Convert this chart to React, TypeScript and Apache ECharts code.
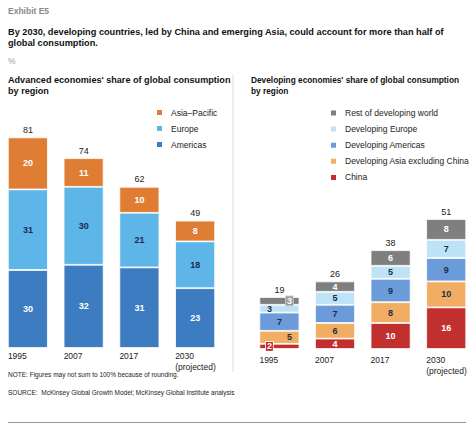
import React, { useEffect, useRef } from "react";
import * as echarts from "echarts";

const years = ["1995", "2007", "2017", "2030\n(projected)"];

// Advanced economies
const americas = [30, 32, 31, 23];
const europe = [31, 30, 21, 18];
const asiaPacific = [20, 11, 10, 8];
const advTotals = [81, 74, 62, 49];

// Developing economies
const china = [2, 4, 10, 16];
const devAsia = [5, 6, 8, 10];
const devAmericas = [7, 7, 9, 9];
const devEurope = [3, 5, 5, 7];
const restWorld = [3, 4, 6, 8];
const devTotals = [19, 26, 38, 51];

const FONT = "Liberation Sans, Arial, Helvetica, sans-serif";
const DARK = "#1d2b4f";

const C = {
  asiaPacific: "#E07D34",
  europe: "#5DB5E8",
  americas: "#3E7CC2",
  rest: "#7F7F7F",
  devEurope: "#BEE3F6",
  devAmericas: "#6B9BD8",
  devAsia: "#F1AE62",
  china: "#C1302F",
};

function segLabel(color: string) {
  return {
    show: true,
    position: "inside" as const,
    color,
    fontSize: 9,
    fontWeight: "bold" as const,
    fontFamily: FONT,
  };
}

function barSeries(
  name: string,
  data: any[],
  color: string,
  labelColor: string,
  axis: number,
  stack: string
) {
  return {
    name,
    type: "bar",
    stack,
    xAxisIndex: axis,
    yAxisIndex: axis,
    barWidth: 40,
    data,
    itemStyle: { color, borderColor: "#fff", borderWidth: 0.8 },
    label: segLabel(labelColor),
  };
}

function totalSeries(totals: number[], axis: number, stack: string) {
  return {
    name: "total" + axis,
    type: "bar",
    stack,
    xAxisIndex: axis,
    yAxisIndex: axis,
    barWidth: 40,
    data: totals.map(() => 0),
    itemStyle: { color: "transparent" },
    label: {
      show: true,
      position: "top" as const,
      distance: 3,
      color: "#222",
      fontSize: 9,
      fontFamily: FONT,
      formatter: (p: any) => String(totals[p.dataIndex]),
    },
  };
}

function xLabel(margin: number) {
  return {
    interval: 0,
    margin,
    formatter: (v: string) =>
      v
        .split("\n")
        .map((s) => `{a|${s}}`)
        .join("\n"),
    rich: {
      a: {
        width: 40,
        align: "left",
        fontSize: 8.5,
        lineHeight: 10.5,
        color: "#222",
        fontFamily: FONT,
      },
    },
  };
}

function txt(
  x: number,
  y: number,
  text: string,
  fontSize: number,
  fill: string,
  bold: boolean,
  lineHeight?: number
) {
  return {
    type: "text",
    x,
    y,
    style: {
      text,
      x: 0,
      y: 0,
      fontSize,
      fontWeight: bold ? "bold" : "normal",
      fill,
      fontFamily: FONT,
      lineHeight: lineHeight || fontSize * 1.2,
      textAlign: "left",
      textVerticalAlign: "top",
    },
  };
}

export default function App() {
  const ref = useRef<HTMLDivElement>(null);
  useEffect(() => {
    if (!ref.current) return;
    const chart = echarts.init(ref.current, undefined, { renderer: "svg" });

    const devStyled = (arr: number[], key: string) =>
      arr.map((v, i) => {
        if (i !== 0) return v;
        if (key === "china")
          return {
            value: v,
            label: {
              offset: [-10, 0],
              backgroundColor: C.china,
              borderColor: "#fff",
              borderWidth: 0.8,
              padding: [0, 1, 0, 1],
              color: "#fff",
            },
          };
        if (key === "rest")
          return {
            value: v,
            label: {
              offset: [10, 0],
              backgroundColor: "#9a9a9a",
              borderColor: "#d0d0d0",
              borderWidth: 0.8,
              padding: [0, 1, 0, 1],
              color: "#fff",
            },
          };
        if (key === "devEurope") return { value: v, label: { offset: [-10, 0] } };
        if (key === "devAsia") return { value: v, label: { offset: [10, 0] } };
        return v;
      });

    const legendText = {
      fontSize: 8.5,
      color: "#222",
      fontFamily: FONT,
      padding: [0, 0, 0, 3],
    };

    const option: any = {
      animation: false,
      textStyle: { fontFamily: FONT },
      grid: [
        { left: 0, width: 223, top: 88, bottom: 83 },
        { left: 251.6, width: 223, top: 89, bottom: 82 },
      ],
      xAxis: [0, 1].map((i) => ({
        type: "category",
        gridIndex: i,
        data: years,
        axisLine: { show: false },
        axisTick: { show: false },
        axisLabel: xLabel(i === 0 ? 3 : 6),
      })),
      yAxis: [0, 1].map((i) => ({
        type: "value",
        gridIndex: i,
        min: 0,
        max: 100,
        show: false,
        splitLine: { show: false },
      })),
      legend: [
        {
          left: 150,
          top: 103,
          orient: "vertical",
          itemWidth: 7,
          itemHeight: 7,
          itemGap: 7,
          icon: "rect",
          data: ["Asia–Pacific", "Europe", "Americas"],
          textStyle: legendText,
        },
        {
          left: 324,
          top: 103.5,
          orient: "vertical",
          itemWidth: 7,
          itemHeight: 7,
          itemGap: 7.1,
          icon: "rect",
          data: [
            "Rest of developing world",
            "Developing Europe",
            "Developing Americas",
            "Developing Asia excluding China",
            "China",
          ],
          textStyle: legendText,
        },
      ],
      series: [
        barSeries("Americas", americas, C.americas, "#fff", 0, "a"),
        barSeries("Europe", europe, C.europe, DARK, 0, "a"),
        barSeries("Asia–Pacific", asiaPacific, C.asiaPacific, "#fff", 0, "a"),
        totalSeries(advTotals, 0, "a"),
        barSeries("China", devStyled(china, "china"), C.china, "#fff", 1, "d"),
        barSeries(
          "Developing Asia excluding China",
          devStyled(devAsia, "devAsia"),
          C.devAsia,
          DARK,
          1,
          "d"
        ),
        barSeries(
          "Developing Americas",
          devStyled(devAmericas, "devAmericas"),
          C.devAmericas,
          DARK,
          1,
          "d"
        ),
        barSeries(
          "Developing Europe",
          devStyled(devEurope, "devEurope"),
          C.devEurope,
          DARK,
          1,
          "d"
        ),
        barSeries(
          "Rest of developing world",
          devStyled(restWorld, "rest"),
          C.rest,
          "#fff",
          1,
          "d"
        ),
        totalSeries(devTotals, 1, "d"),
      ],
      graphic: [
        txt(8, 6, "Exhibit E5", 8.5, "#8a8a8a", true),
        txt(
          8,
          26,
          "By 2030, developing countries, led by China and emerging Asia, could account for more than half of\nglobal consumption.",
          9.2,
          "#111",
          true,
          11
        ),
        txt(8, 56, "%", 8.5, "#9a9a9a", false),
        txt(
          8,
          74,
          "Advanced economies' share of global consumption\nby region",
          9.1,
          "#111",
          true,
          11
        ),
        txt(
          251,
          74,
          "Developing economies' share of global consumption\nby region",
          8.3,
          "#111",
          true,
          11
        ),
        {
          type: "line",
          shape: { x1: 233, y1: 75, x2: 233, y2: 372 },
          style: { stroke: "#dcdcdc", lineWidth: 1 },
        },
        txt(8, 371, "NOTE: Figures may not sum to 100% because of rounding.", 6.5, "#222", false),
        txt(
          8,
          389,
          "SOURCE:  McKinsey Global Growth Model; McKinsey Global Institute analysis",
          6.5,
          "#222",
          false
        ),
        {
          type: "line",
          shape: { x1: 8, y1: 422.5, x2: 466, y2: 422.5 },
          style: { stroke: "#9a9a9a", lineWidth: 1 },
        },
      ],
    };
    chart.setOption(option);
    return () => chart.dispose();
  }, []);
  return (
    <div
      ref={ref}
      style={{
        position: "fixed",
        left: 0,
        top: 0,
        width: 474,
        height: 431,
        background: "#fff",
      }}
    />
  );
}
